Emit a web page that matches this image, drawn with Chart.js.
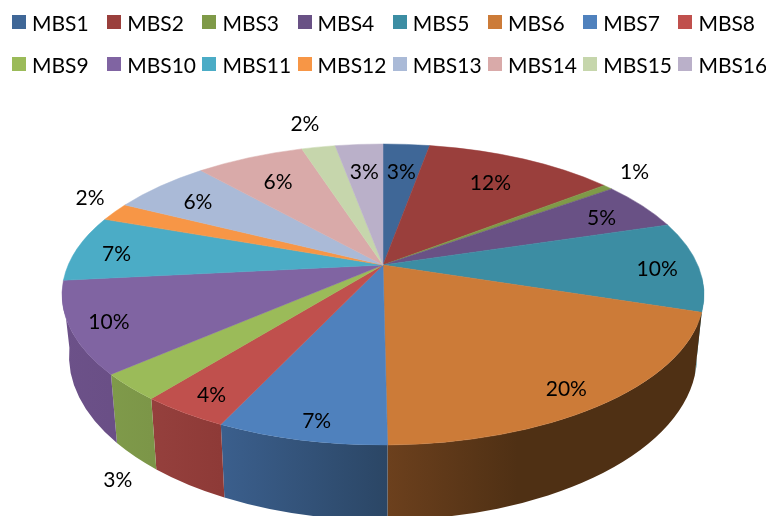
<!DOCTYPE html>
<html>
<head>
<meta charset="utf-8">
<script src="https://cdn.jsdelivr.net/npm/chart.js"></script>
<style>
  body { margin: 0; background: #fff; }
  #wrap { position: relative; width: 766px; height: 516px; overflow: hidden; }
  #my-chart { position: absolute; left: 0; top: 0; }
  .legend-item {
    position: absolute; display: flex; align-items: center; height: 24px;
    font: 21px Lato, sans-serif; color: #000; white-space: nowrap;
  }
  .legend-box { width: 14px; height: 14px; margin-right: 6px; }
</style>
</head>
<body>
<div id="wrap">
  <canvas id="my-chart" width="766" height="516"></canvas>
</div>
<script>
const categories = ["MBS1", "MBS2", "MBS3", "MBS4", "MBS5", "MBS6", "MBS7", "MBS8",
  "MBS9", "MBS10", "MBS11", "MBS12", "MBS13", "MBS14", "MBS15", "MBS16"];
const shares = [2.83, 11.6, 0.6, 5.25, 9.7, 19.85, 7.15, 3.75, 2.85, 9.8, 7.1, 2, 6, 6.6, 2.05, 2.9];
const shareLabels = ["3%", "12%", "1%", "5%", "10%", "20%", "7%", "4%", "3%", "10%", "7%", "2%", "6%", "6%", "2%", "3%"];
const topColors = ["#3f6797", "#9a3f3c", "#7f9a48", "#695185", "#3c8da3", "#cc7b38", "#4f81bd", "#c0504d",
  "#9bbb59", "#8064a2", "#4bacc6", "#f79646", "#aabad7", "#d9aaa9", "#c6d6ac", "#bab0c9"];

// side wall shades, left and right end of the gradient, only the front slices show
const wallShades = {
  4: ["#2f7d92", "#2f7d92"],
  5: ["#6c401d", "#4f3014"],
  6: ["#3b5f8d", "#2b4665"],
  7: ["#95403d", "#8e3a37"],
  8: ["#7f9a4a", "#7c9648"],
  9: ["#6c5189", "#6a4f86"],
};
// how far out along its slice each label sits (1 = rim), then a small pixel nudge
const labelReach = [0.75, 0.76, 1.17, 0.82, 0.87, 0.89, 0.91, 0.89, 1.04, 0.89, 0.86, 1.14, 0.81, 0.76, 1.26, 0.75];
const labelNudge = [[0, 2], [-2, 2], [-7, -3], [3, 3], [0, 3], [-10, 4], [7, 0], [2, 2],
  [0, 88], [2, 2], [-3, 4], [10, -7], [-1, 2], [0, 2], [0, 2], [0, 2]];

// top face is a circle seen in perspective, so the apex is not the ellipse center
const rimUp = 121, rimDown = 180, rimX = 321;
const tilt = -(rimDown - rimUp) / (rimDown + rimUp);
const depthA = rimUp * (1 - tilt);
const depthK = rimX * Math.sqrt(1 - tilt * tilt);
const faceRy = (rimUp + rimDown) / 2;
const faceLift = (rimDown - rimUp) / 2;
const floor = { dy: 91, rx: 314, ry: 164 };

function project(angle, reach) {
  const theta = angle + Math.PI / 2;
  const ux = Math.sin(theta) * reach;
  const uy = -Math.cos(theta) * reach;
  const w = 1 + tilt * uy;
  return { x: depthK * ux / w, y: depthA * uy / w };
}

function rimParam(angle) {
  const p = project(angle, 1);
  return Math.atan2((p.y - faceLift) / faceRy, p.x / rimX);
}

const pie3d = {
  id: "pie3d",
  beforeDatasetsDraw(chart) {
    const ctx = chart.ctx;
    const arcs = chart.getDatasetMeta(0).data;
    const cx = arcs[0].x, cy = arcs[0].y;
    const faceY = cy + faceLift;
    const floorY = cy + floor.dy;

    let last = -Math.PI;
    const spans = arcs.map((arc) => {
      let t0 = rimParam(arc.startAngle);
      let t1 = rimParam(arc.endAngle);
      while (t0 < last - 0.001) t0 += 2 * Math.PI;
      while (t1 < t0) t1 += 2 * Math.PI;
      last = t1;
      return [t0, t1];
    });

    // side walls first, the top face covers whatever is behind it
    arcs.forEach((arc, i) => {
      const shade = wallShades[i];
      if (!shade) return;
      const t0 = Math.max(spans[i][0], -0.1);
      const t1 = Math.min(spans[i][1], Math.PI + 0.05);
      if (t1 <= t0) return;
      const xa = cx + rimX * Math.cos(t1), xb = cx + rimX * Math.cos(t0);
      const fade = ctx.createLinearGradient(xa, 0, i === 5 ? xa + 130 : xb, 0);
      fade.addColorStop(0, shade[0]);
      fade.addColorStop(1, shade[1]);
      ctx.beginPath();
      ctx.ellipse(cx, faceY, rimX, faceRy, 0, t0, t1);
      ctx.ellipse(cx, floorY, floor.rx, floor.ry, 0, t1, t0, true);
      ctx.closePath();
      ctx.fillStyle = fade;
      ctx.fill();
    });

    arcs.forEach((arc, i) => {
      ctx.beginPath();
      ctx.moveTo(cx, cy);
      ctx.ellipse(cx, faceY, rimX, faceRy, 0, spans[i][0], spans[i][1]);
      ctx.closePath();
      ctx.fillStyle = topColors[i];
      ctx.strokeStyle = topColors[i];
      ctx.lineWidth = 0.5;
      ctx.fill();
      ctx.stroke();
    });

    ctx.font = "21px Lato, sans-serif";
    ctx.fillStyle = "#000";
    ctx.textAlign = "center";
    ctx.textBaseline = "middle";
    arcs.forEach((arc, i) => {
      const p = project((arc.startAngle + arc.endAngle) / 2, labelReach[i]);
      ctx.fillText(shareLabels[i], cx + p.x + labelNudge[i][0], cy + p.y + labelNudge[i][1]);
    });
    return false;
  },
};

const chart = new Chart(document.getElementById("my-chart"), {
  type: "pie",
  data: {
    labels: categories,
    datasets: [{ data: shares, backgroundColor: topColors, borderWidth: 0 }],
  },
  options: {
    responsive: false,
    animation: false,
    layout: { padding: { top: 14 } },
    plugins: { legend: { display: false }, tooltip: { enabled: false } },
  },
  plugins: [pie3d],
});

// legend sits in fixed columns, two rows of eight
const wrap = document.getElementById("wrap");
chart.data.labels.forEach((name, i) => {
  const item = document.createElement("div");
  item.className = "legend-item";
  item.style.left = 12 + (i % 8) * 95.2 + "px";
  item.style.top = (i < 8 ? 10 : 52) + "px";
  const box = document.createElement("span");
  box.className = "legend-box";
  box.style.background = topColors[i];
  item.appendChild(box);
  item.appendChild(document.createTextNode(name));
  wrap.appendChild(item);
});
</script>
</body>
</html>
